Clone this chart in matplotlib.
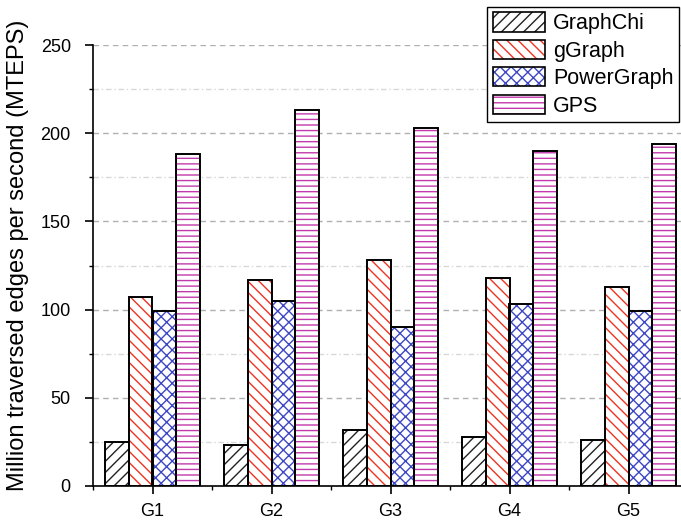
import matplotlib.pyplot as plt
import numpy as np
from matplotlib.patches import Patch
from matplotlib.legend_handler import HandlerTuple
from matplotlib.ticker import MultipleLocator

plt.rcParams['font.family'] = ['Liberation Sans', 'DejaVu Sans']
plt.rcParams['hatch.linewidth'] = 1.0

# Throughput per graph for each system (MTEPS)
graphs = ["G1", "G2", "G3", "G4", "G5"]
systems = ["GraphChi", "gGraph", "PowerGraph", "GPS"]
graphchi = [25, 23.5, 32, 28, 26]
ggraph = [107, 116.5, 128, 118, 113]
powergraph = [99, 105, 90, 103, 99]
gps = [188, 213, 203, 190, 194]

series = [graphchi, ggraph, powergraph, gps]
hatches = ["///", "\\\\\\", "xxx", "---"]
hatch_colors = ["#222222", "#ee3322", "#3d47c4", "#c23aab"]

fig = plt.figure(figsize=(6.81, 5.23), dpi=100)
ax = fig.add_axes([93 / 681, 37 / 523, 595 / 681, 441 / 523])

x = np.arange(1, len(graphs) + 1)
w = 0.2
handles = []
for i, (vals, h, hc) in enumerate(zip(series, hatches, hatch_colors)):
    pos = x + (i - 1.5) * w
    # hatch drawn in its own colour, black outline on top
    ax.bar(pos, vals, w, color="white", edgecolor=hc, hatch=h, linewidth=0, zorder=2)
    ax.bar(pos, vals, w, fill=False, edgecolor="black", linewidth=1.4, zorder=3)
    handles.append((Patch(facecolor="white", edgecolor=hc, hatch=h, linewidth=0),
                    Patch(fill=False, edgecolor="black", linewidth=1.2)))

ax.set_xlim(0.5, 5.5)
ax.set_ylim(0, 250)
ax.set_xticks(x)
ax.set_xticklabels(graphs)
ax.xaxis.set_minor_locator(MultipleLocator(1, offset=0.5))
ax.yaxis.set_major_locator(MultipleLocator(50))
ax.yaxis.set_minor_locator(MultipleLocator(25))
ax.tick_params(axis="both", which="major", direction="out", length=6, width=1.2, labelsize=13)
ax.tick_params(axis="y", which="major", pad=10)
ax.tick_params(axis="x", which="major", pad=6)
ax.tick_params(axis="both", which="minor", direction="out", length=3, width=1.0)

ax.spines["top"].set_visible(False)
ax.spines["right"].set_visible(False)
ax.spines["left"].set_linewidth(1.2)
ax.spines["bottom"].set_linewidth(1.2)

ax.yaxis.grid(True, which="major", linestyle=(0, (4, 3)), color="#b0b0b0", linewidth=1.0, zorder=0)
ax.yaxis.grid(True, which="minor", linestyle=(0, (4, 2, 1, 2)), color="#d8d8d8", linewidth=1.0, zorder=0)
ax.set_axisbelow(True)

ax.set_ylabel("Million traversed edges per second (MTEPS)", fontsize=17)
ax.yaxis.set_label_coords(-0.108, 0.524)

leg = fig.legend(handles, systems, handler_map={tuple: HandlerTuple(ndivide=1, pad=0)},
                 loc="upper right", bbox_to_anchor=(679 / 681, 1 - 7 / 523),
                 bbox_transform=fig.transFigure, borderaxespad=0, fontsize=15.5,
                 handlelength=2.4, handleheight=1.0, handletextpad=0.4,
                 labelspacing=0.25, borderpad=0.25, fancybox=False, framealpha=1,
                 edgecolor="black")
leg.get_frame().set_linewidth(1.0)

fig.savefig("out.png", dpi=100)
